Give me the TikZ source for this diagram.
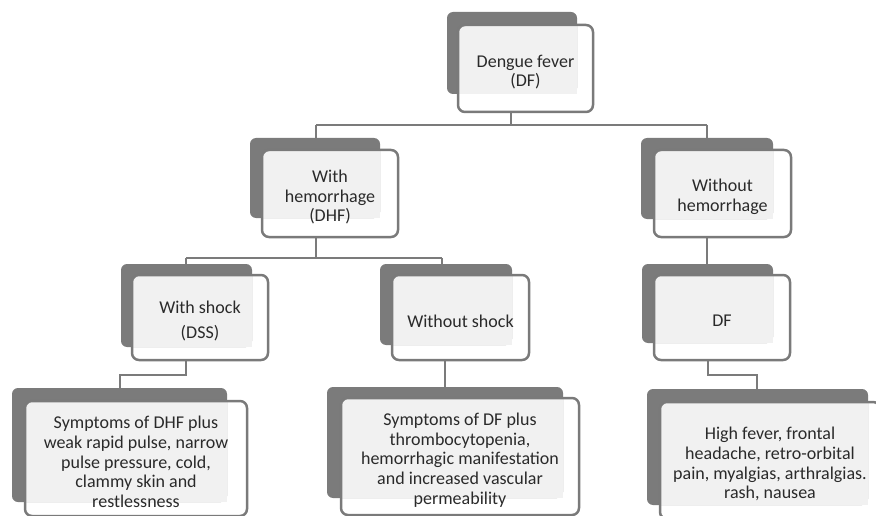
\documentclass[tikz,border=0pt]{standalone}
\usepackage{fontspec}
\setmainfont{Carlito}
\usetikzlibrary{fit,backgrounds}
\definecolor{darkgr}{HTML}{7B7B7B}
\definecolor{edgegr}{HTML}{7A7A7A}
\definecolor{lightgr}{HTML}{F1F1F1}
\definecolor{txt}{HTML}{2A2A2A}
\tikzset{
  frontbox/.style={draw=edgegr, line width=2.5pt, rounded corners=7pt, inner sep=0pt, outer sep=0pt},
  cardtext/.style={align=center, text=txt, inner sep=0pt, font=\fontsize{18}{19.8}\selectfont},
  darkbox/.style={fill=darkgr, rounded corners=6pt, inner sep=0pt, outer sep=0pt},
  conn/.style={draw=darkgr, line width=2pt},
}
\newcommand\card[4]{%
  \node[frontbox, fit={#3}] (f#1) {};
  \node[cardtext] (t#1) at ([yshift=-3.5pt]f#1.center) {#4};
  \begin{pgfonlayer}{background}
    \node[darkbox, fit={#2}] (d#1) {};
    \fill[lightgr] ([shift={(1.25pt,-1.25pt)}]f#1.north west) rectangle (d#1.south east);
  \end{pgfonlayer}}
\begin{document}
\begin{tikzpicture}[x=1pt,y=-1pt]
\useasboundingbox (0,0) rectangle (876,516);
\clip (0,0) rectangle (876,516);
\card{1}{(447,12)(577,94)}{(458,25)(593,112)}{Dengue fever\\(DF)}
\card{2}{(250,138)(380,218)}{(262,150)(398,237)}{With\\hemorrhage\\(DHF)}
\card{3}{(641,138)(773,219)}{(654,150)(791,237)}{Without\\hemorrhage}
\card{4}{(121,264)(252,347)}{(132,275)(268,360)}{With shock\\[6pt](DSS)}
\card{5}{(380,264)(512,345)}{(392,275)(529,360)}{Without shock}
\card{6}{(642,264)(773,343)}{(654,275)(790,360)}{DF}
\card{7}{(12,388)(227,502)}{(25,401)(247,516)}{Symptoms of DHF plus\\weak rapid pulse, narrow\\pulse pressure, cold,\\clammy skin and\\restlessness}
\card{8}{(327,387)(563,498)}{(341,398)(579,515)}{Symptoms of DF plus\\thrombocytopenia,\\hemorrhagic manifestation\\and increased vascular\\permeability}
\card{9}{(647,389)(868,505)}{(660,402)(880,519)}{High fever, frontal\\headache, retro-orbital\\pain, myalgias, arthralgias.\\rash, nausea}
% junction coordinates
\coordinate (j1) at (511,125);
\coordinate (j1l) at (316,125);
\coordinate (j1r) at (707,125);
\coordinate (j2) at (316,258);
\coordinate (j2l) at (186,258);
\coordinate (j2r) at (442,258);
\coordinate (j4) at (186,375);
\coordinate (j4b) at (120,375);
\coordinate (j5) at (445,375);
\coordinate (j6) at (708,375);
\coordinate (j6b) at (757,375);
\begin{scope}[on background layer]
\draw[conn] (f1.south -| j1) -- (j1);
\draw[conn] (j1l) -- (j1r);
\draw[conn] (j1l) -- (d2.north -| j1l);
\draw[conn] (j1r) -- (d3.north -| j1r);
\draw[conn] (f2.south -| j2) -- (j2);
\draw[conn] (j2l) -- (j2r);
\draw[conn] (j2l) -- (d4.north -| j2l);
\draw[conn] (j2r) -- (d5.north -| j2r);
\draw[conn] (f3.south -| j1r) -- (d6.north -| j1r);
\draw[conn] (f4.south -| j4) -- (j4) -- (j4b) -- (d7.north -| j4b);
\draw[conn] (f5.south -| j5) -- (d8.north -| j5);
\draw[conn] (f6.south -| j6) -- (j6) -- (j6b) -- (d9.north -| j6b);
\end{scope}
\end{tikzpicture}
\end{document}
